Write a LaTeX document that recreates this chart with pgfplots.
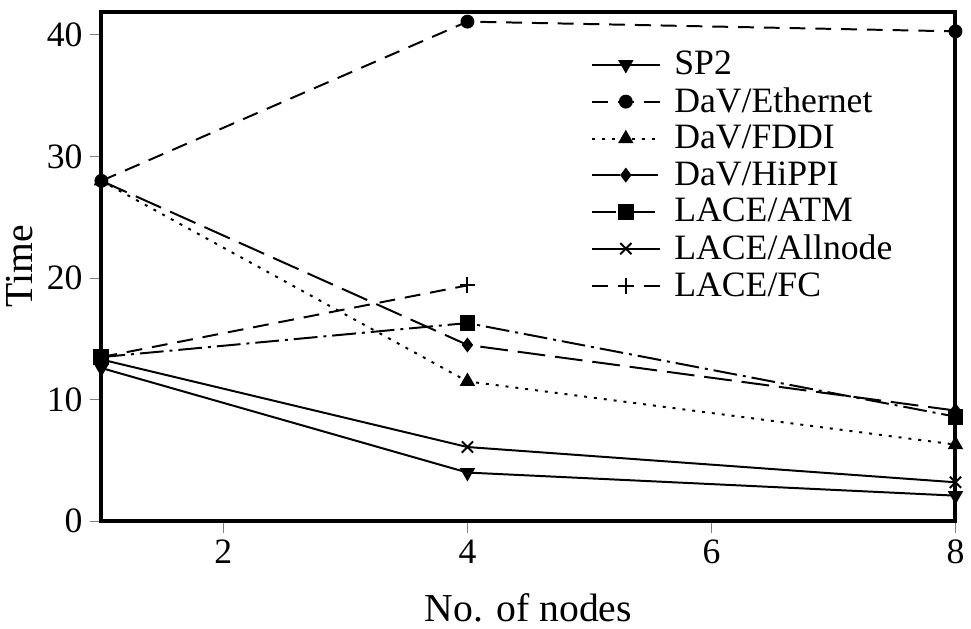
\documentclass[border=0pt]{standalone}
\usepackage{fontspec}
\setmainfont{Liberation Serif}
\usepackage{pgfplots}
\pgfplotsset{compat=1.18}
\begin{document}
\begin{tikzpicture}
\begin{axis}[
  scale only axis, width=431pt, height=257pt,
  xmin=1, xmax=8, ymin=0, ymax=41.9,
  xtick={2,4,6,8}, ytick={0,10,20,30,40},
  tick align=outside, xtick pos=left, ytick pos=left,
  major tick length=6pt,
  tick style={gray, line width=0.5pt},
  axis line style={line width=2pt},
  /pgf/number format/assume math mode=true,
  tick label style={font=\fontsize{18}{20}\selectfont},
  label style={font=\fontsize{20}{24}\selectfont},
  xlabel={No. of nodes}, ylabel={Time},
  xlabel style={yshift=-8pt},
  every axis plot/.append style={line width=1pt, mark size=3.5pt},
  legend cell align=left,
  legend style={draw=none, fill=none, at={(0.566,0.939)}, anchor=north west,
    font=\fontsize{18}{18}\selectfont, row sep=1pt, column sep=5pt},
  legend image code/.code={\draw[mark repeat=2,mark phase=2] plot coordinates {(-11pt,0pt)(6pt,0pt)(23pt,0pt)};},
]
\addplot[black, solid, mark=triangle*, mark options={solid, rotate=180}] coordinates {(1,12.6)(4,4.0)(8,2.1)};
\addlegendentry{SP2}
\addplot[black, dash pattern=on 8pt off 5pt, mark=*, mark size=3pt, mark options={solid}] coordinates {(1,28.0)(4,41.1)(8,40.3)};
\addlegendentry{DaV/Ethernet}
\addplot[black, dash pattern=on 1.5pt off 3.5pt, mark=triangle*, mark options={solid}] coordinates {(1,28.0)(4,11.5)(8,6.3)};
\addlegendentry{DaV/FDDI}
\addplot[black, dash pattern=on 14pt off 5pt, mark=diamond*, mark size=3pt, mark options={solid}] coordinates {(1,28.0)(4,14.5)(8,9.1)};
\addlegendentry{DaV/HiPPI}
\addplot[black, dash pattern=on 12pt off 3pt on 1.5pt off 3pt, mark=square*, mark size=3.5pt, mark options={solid}] coordinates {(1,13.5)(4,16.3)(8,8.6)};
\addlegendentry{LACE/ATM}
\addplot[black, solid, mark=x, mark size=4pt, mark options={solid}] coordinates {(1,13.3)(4,6.1)(8,3.2)};
\addlegendentry{LACE/Allnode}
\addplot[black, dash pattern=on 8pt off 5pt, mark=+, mark size=4pt, mark options={solid}] coordinates {(1,13.5)(4,19.4)};
\addlegendentry{LACE/FC}
\end{axis}
\path ([yshift=6pt]current axis.north);
\end{tikzpicture}
\end{document}
